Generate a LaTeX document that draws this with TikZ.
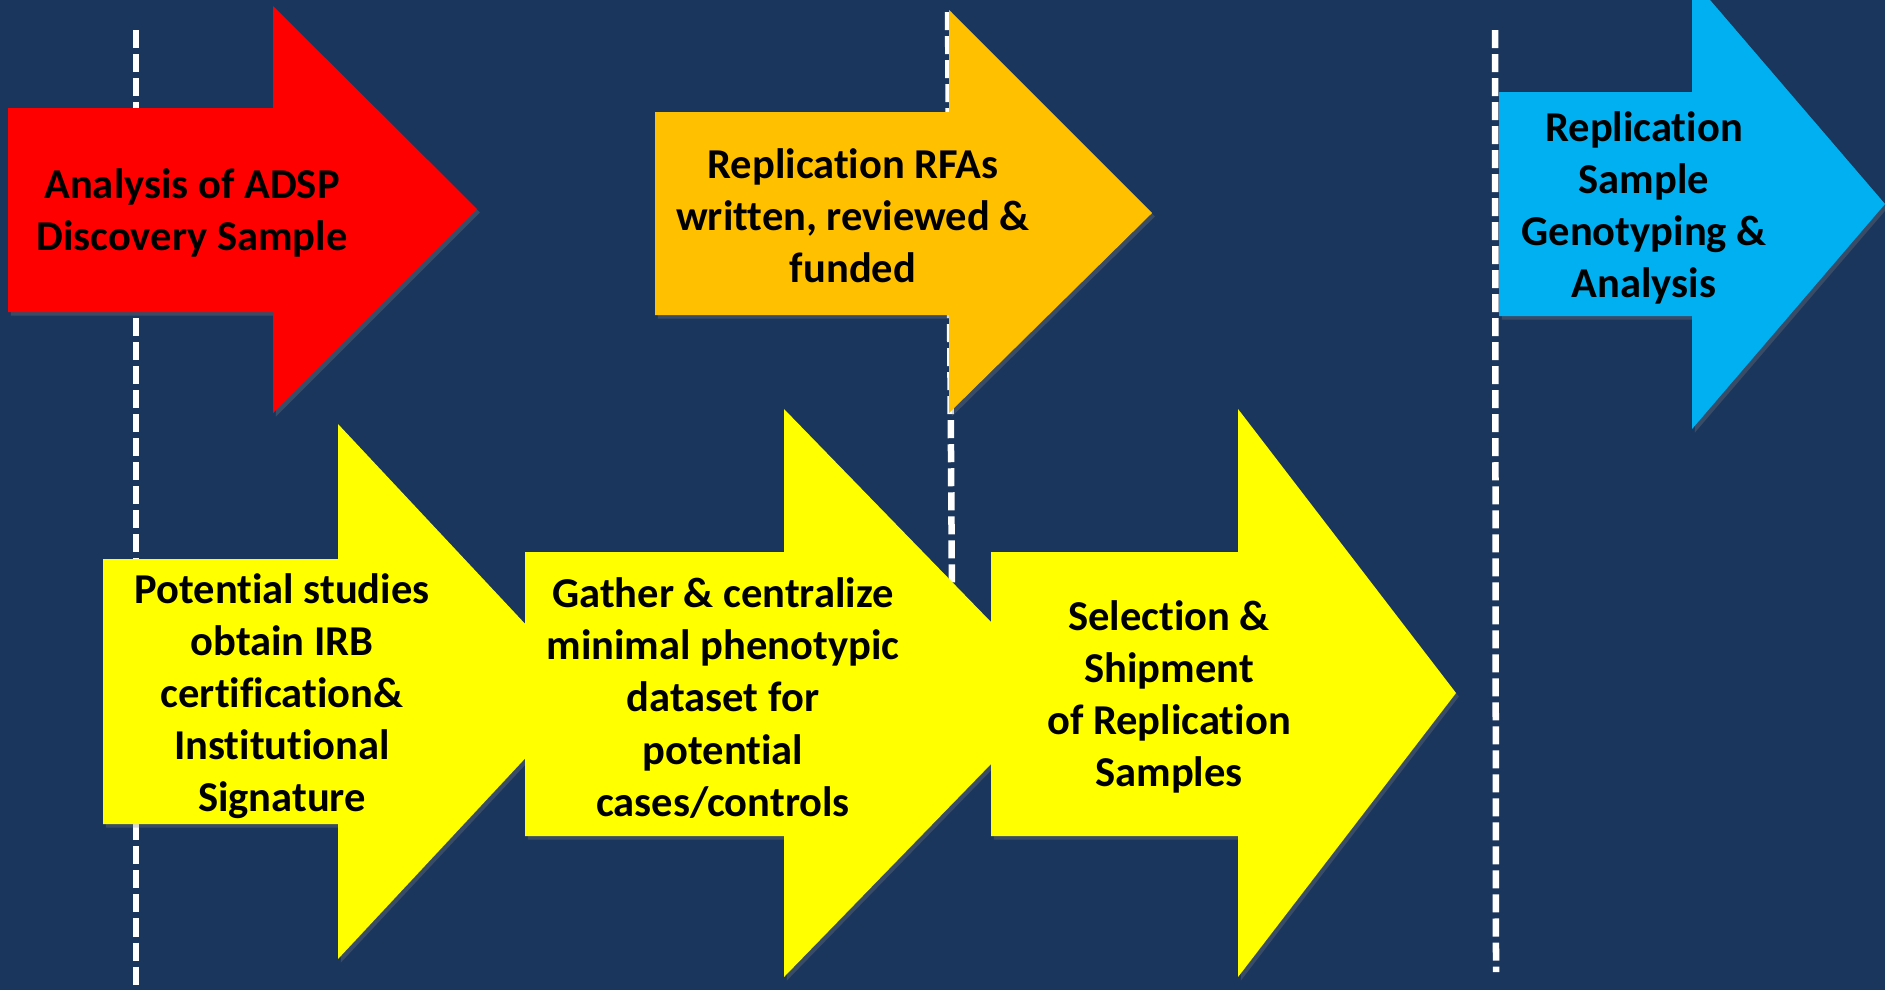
\documentclass[tikz,border=0pt]{standalone}
\usepackage{fontspec}
\setmainfont{Carlito}[RawFeature=-liga]
\usepackage{tikz}
\usetikzlibrary{shadows}
\definecolor{navybg}{RGB}{27,54,93}
\definecolor{arrowred}{RGB}{255,0,0}
\definecolor{arroworange}{RGB}{255,192,0}
\definecolor{arrowyellow}{RGB}{255,255,0}
\definecolor{arrowblue}{RGB}{0,176,240}
\newcommand{\stepfont}{\bfseries\fontsize{12.1}{14.8}\selectfont}

\begin{document}
\begin{tikzpicture}[x=0.01cm, y=-0.01cm,
        stagearrow/.style={drop shadow={opacity=0.3, shadow xshift=0.8pt, shadow yshift=-1pt}},
        steptext/.style={black, align=center, font=\stepfont, inner sep=0pt},
        milestone/.style={white, line width=.065cm, dash pattern=on .18cm off .06cm}]
        \useasboundingbox (0, 0) rectangle (1885, 990);
        \clip (0, 0) rectangle (1885, 990);
        \fill[navybg] (0, 0) rectangle (1885, 990);
        % milestone lines
        \foreach \x/\ya/\xb/\yb in {136/30/136/990, 948/12/952/600, 1495/30/1496/972}
        \draw[milestone] (\x, \ya) -- (\xb, \yb);
        % top row
        \fill[arrowred, stagearrow] (8, 108) -- (273, 108) -- (273, 6) -- (477, 209)
                -- (273, 413) -- (273, 312) -- (8, 312) -- cycle;
        \fill[arroworange, stagearrow] (655, 112) -- (949, 112) -- (949, 10) -- (1152, 213)
                -- (949, 413) -- (949, 315) -- (655, 315) -- cycle;
        \fill[arrowblue, stagearrow] (1499, 92) -- (1692, 92) -- (1692, -21) -- (1885, 204)
                -- (1692, 429) -- (1692, 316) -- (1499, 316) -- cycle;
        \node[steptext] (analysis) at (192, 213) {Analysis of ADSP\\Discovery Sample};
        \node[steptext] (rfas) at (853, 216) {Replication RFAs\\written, reviewed \&\\funded};
        \node[steptext] (genotyping) at (1644, 208) {Replication\\Sample\\Genotyping \&\\Analysis};
        % bottom row
        \fill[arrowyellow, stagearrow] (103, 559) -- (338, 559) -- (338, 424) -- (588, 691)
                -- (338, 959) -- (338, 824) -- (103, 824) -- cycle;
        \fill[arrowyellow, stagearrow] (525, 552) -- (784, 552) -- (784, 409) -- (1060, 693)
                -- (784, 977) -- (784, 836) -- (525, 836) -- cycle;
        \fill[arrowyellow, stagearrow] (991, 552) -- (1238, 552) -- (1238, 409) -- (1456, 693)
                -- (1238, 977) -- (1238, 836) -- (991, 836) -- cycle;
        \node[steptext] (irb) at (282, 696) {Potential studies\\obtain IRB\\certification\&\\Institutional\\Signature};
        \node[steptext] (gather) at (723, 698) {Gather \& centralize\\minimal phenotypic\\dataset for\\potential\\cases/controls};
        \node[steptext] (shipment) at (1169, 697) {Selection \&\\Shipment\\of Replication\\Samples};
\end{tikzpicture}
\end{document}
